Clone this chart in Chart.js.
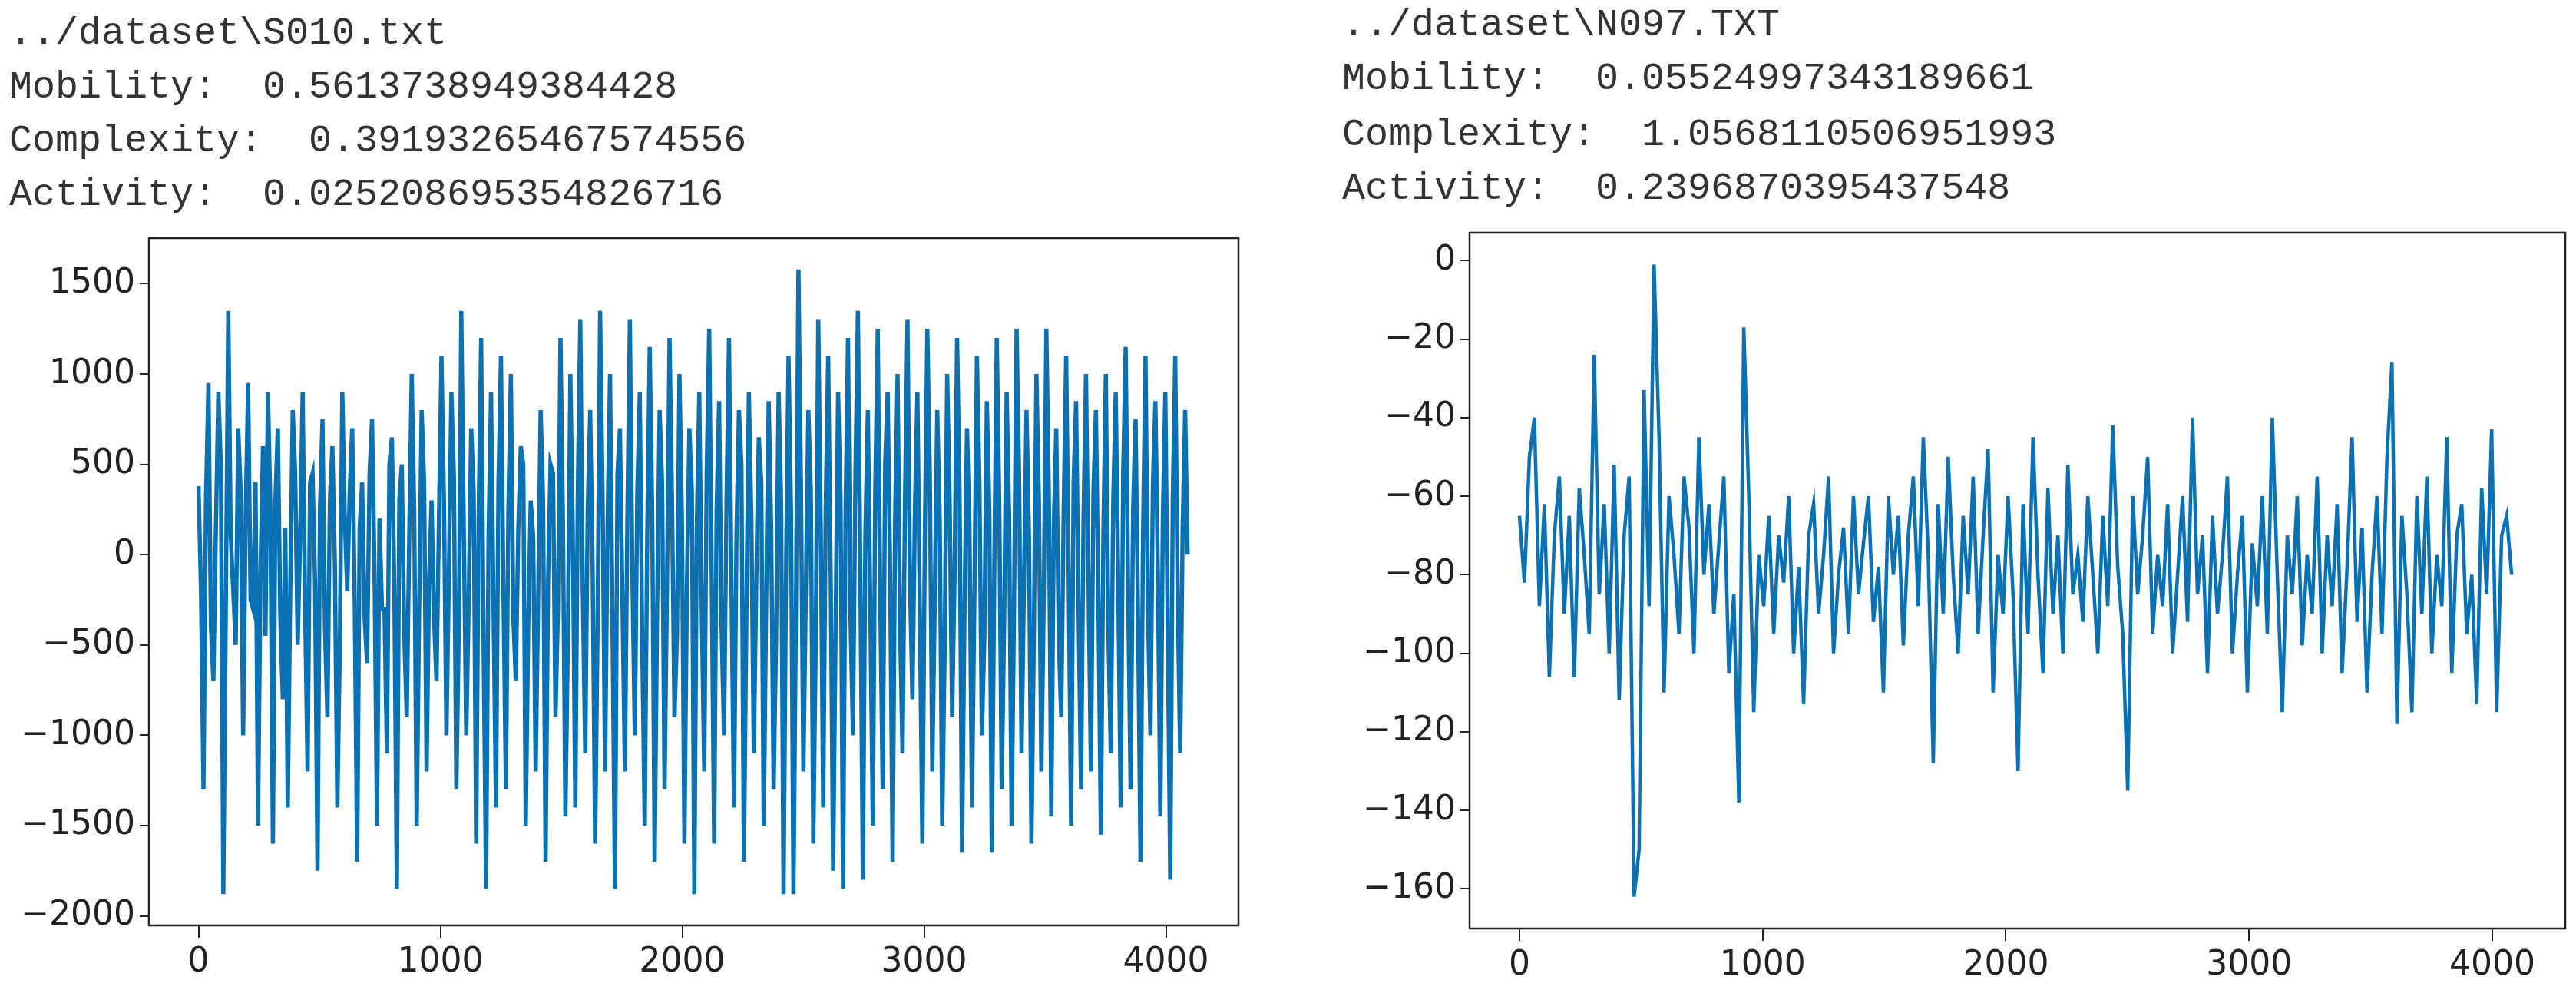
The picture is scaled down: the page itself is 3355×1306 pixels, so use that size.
<!DOCTYPE html>
<html><head><meta charset="utf-8">
<script src="https://cdn.jsdelivr.net/npm/chart.js@4"></script>
<style>
body{margin:0;width:3355px;height:1306px;background:#fff;position:relative;overflow:hidden}
.t{position:absolute;font-family:"Liberation Mono",monospace;font-size:50px;color:#333;white-space:pre;line-height:1}
canvas{position:absolute;top:0}
</style></head><body>
<div class="t" style="left:12px;top:19px">../dataset\S010.txt</div>
<div class="t" style="left:12px;top:89px">Mobility:  0.5613738949384428</div>
<div class="t" style="left:12px;top:159px">Complexity:  0.39193265467574556</div>
<div class="t" style="left:12px;top:229px">Activity:  0.025208695354826716</div>
<div class="t" style="left:1748px;top:8px">../dataset\N097.TXT</div>
<div class="t" style="left:1748px;top:78px">Mobility:  0.05524997343189661</div>
<div class="t" style="left:1748px;top:151px">Complexity:  1.0568110506951993</div>
<div class="t" style="left:1748px;top:221px">Activity:  0.2396870395437548</div>
<div style="position:absolute;left:0;top:0;width:1650px;height:1306px"><canvas id="c1"></canvas></div>
<div style="position:absolute;left:1700px;top:0;width:1655px;height:1306px"><canvas id="c2"></canvas></div>
<script>
const rightStep = 20.5;
const leftStep = 10.25;
// extreme swings of the left signal
const leftPeaks = [
380,-1300,950,-700,900,-1880,1350,-200,700,-1000,950,-300,-1500,600,900,-1600,700,-800,-1400,800,
-500,900,-1200,450,-1750,750,-900,600,-1400,900,-200,700,-1700,400,-600,750,-1500,-300,-1100,650,
-1850,500,-900,1000,-1500,800,-1200,300,-700,1100,-1000,900,-1300,1350,-1000,700,-1600,1200,-1850,900,
-1400,1100,-1300,1000,-700,600,-1500,300,-1200,800,-1700,500,-900,1200,-1450,1000,-1400,1300,-1100,800,
-1600,1350,-1200,1000,-1850,700,-1200,1300,-1000,900,-1500,1150,-1700,800,-1300,1200,-900,1000,-1600,700,
-1880,900,-1200,1250,-1600,850,-1000,1200,-1400,800,-1700,900,-1100,650,-1500,850,-1300,900,-1880,1100,
-1880,1580,-1200,800,-1600,1300,-1400,1100,-1750,900,-1850,1200,-1000,1350,-1800,800,-1500,1250,-1300,900,
-1700,1000,-1100,1300,-800,900,-1600,1250,-1200,800,-1500,1000,-900,1200,-1650,700,-1400,1100,-1000,850,
-1650,1200,-1300,900,-1500,1250,-1100,800,-1600,1000,-1200,1250,-1450,700,-900,1100,-1500,850,-1300,1000,
-1200,800,-1550,1000,-1100,900,-1400,1150,-1300,750,-1700,1100,-1000,850,-1450,900,-1800,1100,-1100,800];
// in-between samples of the left signal
const leftMid = [
-200,300,-400,150,500,-300,100,-500,350,200,-250,400,-100,-450,250,300,-350,150,-200,450,
100,-300,400,-150,250,-400,300,-50,-500,200,350,-250,150,-350,450,-100,200,-300,500,-200,
300,-450,100,250,-300,400,-150,-350,200,300,-100,450,-400,150,-250,350,200,-500,100,-300,
400,-200,250,-350,150,500,-400,100,-250,300,-150,450,-300,200,-450,100,350,-200,250,-100,
-350,300,150,-400,450,-250,200,-100,350,-500,100,250,-300,400,-150,300,-450,200,-200,350,
150,-300,450,-100,250,-400,300,-200,100,500,-350,200,-150,400,-250,150,-450,300,-100,250,
-300,400,-200,350,-450,150,250,-100,-400,300,200,-350,450,-150,100,-300,350,-250,500,-100,
200,-400,300,-150,250,-350,100,450,-250,200,-500,300,-100,350,-300,150,-200,400,-450,250,
-100,300,-350,200,-250,450,-150,100,-400,300,-200,350,150,-450,250,-100,400,-300,200,-150,
350,-250,100,-400,300,-150,450,-200,250,-350,100,-300,400,-100,200,-450,300,-250,150,0];
const rightValues = [
-65,-82,-50,-40,-88,-62,-106,-70,-55,-90,-65,-106,-58,-75,-95,-24,-85,-62,-100,-52,
-112,-70,-55,-162,-150,-33,-88,-1,-45,-110,-60,-75,-95,-55,-68,-100,-45,-80,-62,-90,
-72,-55,-105,-85,-138,-17,-60,-115,-75,-88,-65,-95,-70,-82,-60,-100,-78,-113,-70,-62,
-90,-75,-55,-100,-80,-68,-95,-60,-85,-72,-60,-92,-78,-110,-60,-80,-65,-98,-70,-55,
-88,-45,-75,-128,-62,-90,-50,-80,-100,-65,-85,-55,-95,-70,-48,-110,-75,-90,-60,-85,
-130,-62,-95,-45,-80,-105,-58,-90,-70,-100,-52,-85,-75,-92,-60,-80,-100,-65,-88,-42,
-78,-95,-135,-60,-85,-70,-50,-95,-75,-88,-62,-100,-80,-60,-92,-40,-85,-70,-105,-65,
-90,-75,-55,-100,-80,-65,-110,-72,-88,-60,-95,-40,-80,-115,-70,-85,-60,-98,-75,-90,
-55,-100,-70,-88,-62,-105,-78,-45,-92,-68,-110,-80,-60,-95,-50,-26,-118,-65,-85,-115,
-60,-90,-55,-100,-75,-88,-45,-105,-70,-62,-95,-80,-113,-58,-85,-43,-115,-70,-65,-80];
const xTicks = [0,1000,2000,3000,4000];
const leftYTicks = [-2000,-1500,-1000,-500,0,500,1000,1500];
const rightYTicks = [-160,-140,-120,-100,-80,-60,-40,-20,0];

const leftValues = [];
leftPeaks.forEach((v,i)=>{leftValues.push(v); leftValues.push(leftMid[i]);});

const frame = {id:'frame',afterDraw(c){const a=c.chartArea,x=c.ctx;x.save();x.strokeStyle='#222';x.lineWidth=2.5;x.strokeRect(a.left,a.top,a.right-a.left,a.bottom-a.top);x.restore();}};
function make(id, vals, step, lw, ymin, ymax, yt, yw, padTop, padRight, xh){
  new Chart(document.getElementById(id),{type:'line',
    data:{datasets:[{data:vals.map((v,i)=>({x:i*step,y:v})),borderColor:'#0a72b4',borderWidth:lw,pointRadius:0,tension:0}]},
    options:{animation:false,responsive:true,maintainAspectRatio:false,
      layout:{padding:{top:padTop,right:padRight,left:0,bottom:0}},
      plugins:{legend:{display:false},tooltip:{enabled:false}},
      scales:{
        x:{type:'linear',min:-205,max:4300,afterBuildTicks(s){s.ticks=xTicks.map(v=>({value:v}));},
          afterFit(s){s.height=xh;},
          grid:{drawOnChartArea:false,tickLength:16,color:'#222',lineWidth:2},border:{display:false},
          ticks:{color:'#222',font:{family:'DejaVu Sans',size:44},padding:6,maxRotation:0,callback:v=>''+v}},
        y:{min:ymin,max:ymax,afterBuildTicks(s){s.ticks=yt.map(v=>({value:v}));},
          afterFit(s){s.width=yw;},
          grid:{drawOnChartArea:false,tickLength:12,color:'#222',lineWidth:2},border:{display:false},
          ticks:{color:'#222',font:{family:'DejaVu Sans',size:44},padding:6,callback:v=>v<0?'\u2212'+(-v):''+v}}
      }},plugins:[frame]});
}
make('c1',leftValues,leftStep,5.5,-2053,1753,leftYTicks,194,310,37,101);
make('c2',rightValues,rightStep,4.5,-170.1,7.1,rightYTicks,214,303,14,97);
</script></body></html>
